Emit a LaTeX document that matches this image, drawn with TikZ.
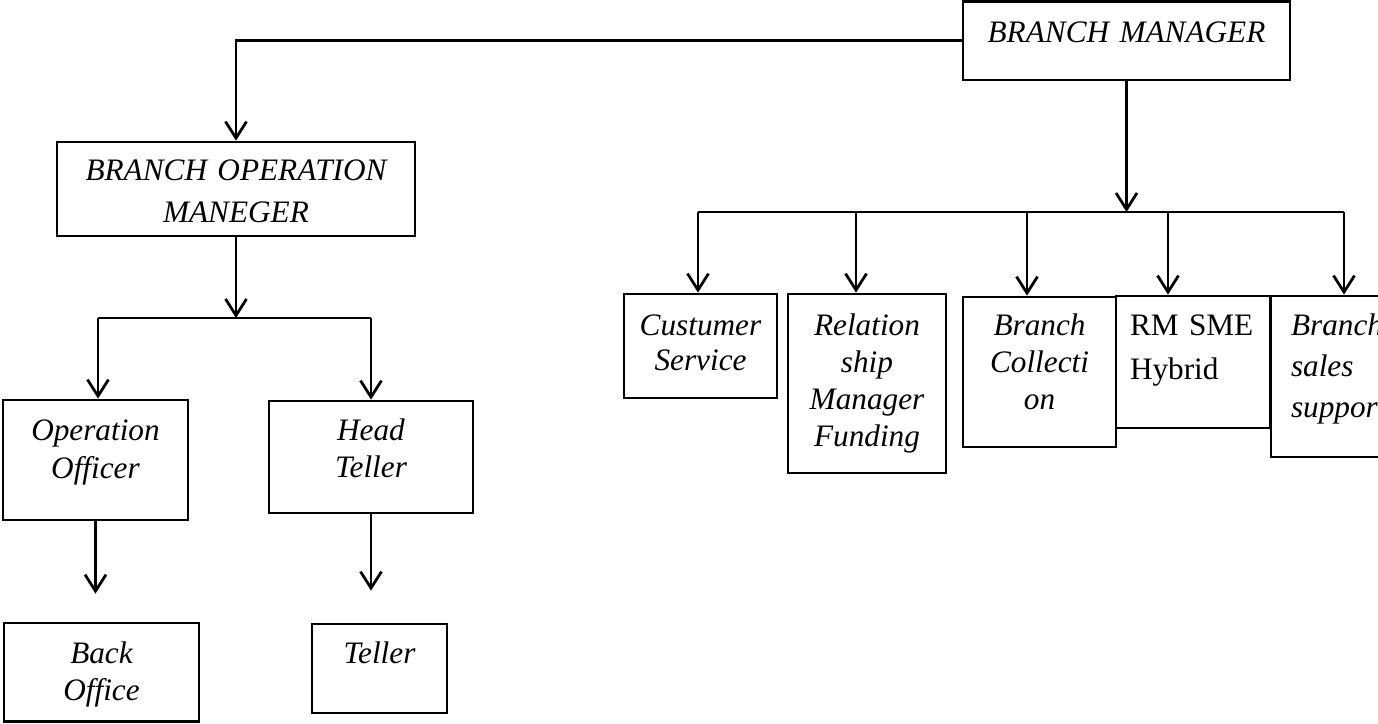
\documentclass[tikz,border=0pt]{standalone}
\usepackage{fontspec}
\setmainfont{Liberation Serif}
\usepackage{tikz}
\usetikzlibrary{arrows.meta}
\usetikzlibrary{calc}

\begin{document}
\begin{tikzpicture}[x=0.4pt,y=-0.4pt,line width=1.1pt,>={Straight Barb[length=6.6pt,width=8.4pt]},
  box/.style={draw,inner sep=0pt,anchor=base,align=center,font=\fontsize{12.5}{14.8}\selectfont\itshape}]
\clip (0,0) rectangle (1378,723);
\node [box,text width=130.8pt,text height=16.2pt,text depth=15.2pt] (bm) at (1126.5,42) {BRANCH MANAGER};
\node [box,text width=143.2pt,text height=15.2pt,text depth=22.4pt,font=\fontsize{12.5}{16.8}\selectfont\itshape] (bom) at (236,180) {BRANCH OPERATION\\MANEGER};
\node [box,text width=74pt,text height=16pt,text depth=32pt,font=\fontsize{12.5}{15.2}\selectfont\itshape] (oo) at (95.5,440) {Operation\\Officer};
\node [box,text width=81.6pt,text height=15.6pt,text depth=29.2pt] (ht) at (371,440) {Head\\Teller};
\node [box,text width=78pt,text height=16pt,text depth=23.4pt] (bo) at (101.5,663) {Back\\Office};
\node [box,text width=54pt,text height=15.6pt,text depth=20pt] (tel) at (379.5,663) {Teller};
\node [box,text width=61.2pt,text height=16.4pt,text depth=25.2pt,font=\fontsize{12.5}{14}\selectfont\itshape] (cs) at (700.5,335) {Custumer\\Service};
\node [box,text width=63.2pt,text height=16.4pt,text depth=55.2pt] (rmf) at (867,335) {Relation\\ship\\Manager\\Funding};
\node [box,text width=61.2pt,text height=15.2pt,text depth=44.8pt] (bc) at (1039.5,335) {Branch\\Collecti\\on};
\node [box,align=left,inner xsep=5.6pt,text width=50.4pt,text height=15.6pt,text depth=37.2pt,font=\fontsize{12.5}{17.6}\selectfont] (rms) at (1193,335) {RM SME\\Hybrid};
\node [box,align=left,inner xsep=8pt,text width=42.4pt,text height=15.6pt,text depth=48.8pt,font=\fontsize{12.5}{16.4}\selectfont\itshape] (bss) at (1344,335) {Branch\\sales\\support};
\coordinate (busL) at (98,318);
\coordinate (busR) at (698,212);
\draw [->] (bm.west) -| (bom.north);
\draw [->] (bm.south) -- (bm.south |- busR);
\draw (busR) -- (1344,212);
\foreach \x/\n in {698/cs,856/rmf,1027/bc,1168/rms,1344/bss}
{
  \coordinate (d\n) at (\x,212);
  \draw [->] (d\n) -- (d\n |- \n.north);
}
\draw [->] (bom.south) -- (bom.south |- busL);
\draw (busL) -- (busL -| ht.north);
\draw [->] (busL) -- (busL |- oo.north);
\draw [->] (busL -| ht.north) -- (ht.north);
\draw [->,shorten >=11.2pt] (oo.south) -- (oo.south |- bo.north);
\draw [->,shorten >=12.8pt] (ht.south) -- (ht.south |- tel.north);
\end{tikzpicture}
\end{document}
